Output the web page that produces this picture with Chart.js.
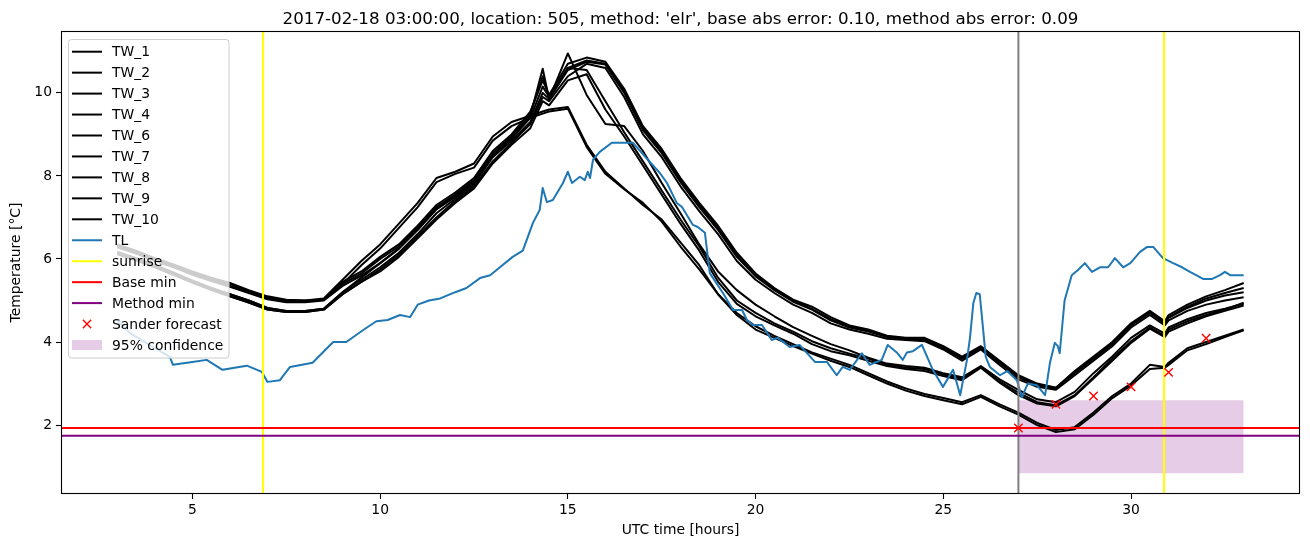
<!DOCTYPE html>
<html>
<head>
<meta charset="utf-8">
<script src="https://cdn.jsdelivr.net/npm/chart.js@4.4.0/dist/chart.umd.min.js"></script>
<style>
  html, body { margin: 0; padding: 0; background: #fff; }
  #wrap { width: 1310px; height: 547px; }
</style>
</head>
<body>
<div id="wrap"><canvas id="tempChart" width="1310" height="547"></canvas></div>
<script>
// hours shared by all TW sensors
const hours = [3, 3.5, 4, 4.5, 5, 5.5, 6, 6.5, 7, 7.5, 8, 8.5, 9, 9.5, 10, 10.5, 11, 11.5, 12, 12.5,
  13, 13.5, 14, 14.33, 14.5, 15, 15.5, 16, 16.5, 17, 17.5, 18, 18.5, 19, 19.5, 20, 20.5, 21, 21.5, 22,
  22.5, 23, 23.5, 24, 24.5, 25, 25.5, 26, 26.5, 27, 27.5, 28, 28.5, 29, 29.5, 30, 30.5, 30.9, 31, 31.5,
  32, 32.5, 33];

const tw1 = [6.33, 6.18, 6.0, 5.85, 5.68, 5.52, 5.4, 5.22, 5.08, 5.0, 5.0, 5.02, 5.45,
  5.7, 6.05, 6.35, 6.8, 7.3, 7.6, 7.95, 8.6, 9.0, 9.55, 10.3, 9.95, 10.7, 10.85, 10.75, 10.1, 9.2,
  8.65, 7.95, 7.35, 6.8, 6.15, 5.65, 5.3, 5.02, 4.85, 4.6, 4.4, 4.3, 4.15, 4.1, 4.1, 3.9, 3.65, 3.9,
  3.55, 3.2, 3.0, 2.9, 3.3, 3.65, 4.0, 4.45, 4.75, 4.5, 4.65, 4.9, 5.1, 5.25, 5.42];
const tw2 = [6.17, 6.02, 5.85, 5.67, 5.48, 5.3, 5.15, 5.0, 4.82, 4.75, 4.75, 4.8, 5.2,
  5.5, 5.8, 6.15, 6.6, 7.1, 7.45, 7.8, 8.45, 8.85, 9.3, 10.0, 9.85, 10.55, 10.75, 10.68, 10.0, 9.1,
  8.55, 7.85, 7.25, 6.7, 6.05, 5.58, 5.25, 4.97, 4.78, 4.52, 4.35, 4.25, 4.12, 4.07, 4.05, 3.85, 3.6, 3.85,
  3.5, 3.15, 2.95, 2.88, 3.25, 3.6, 3.95, 4.4, 4.7, 4.45, 4.58, 4.82, 5.0, 5.12, 5.2];
const tw3 = [6.17, 6.02, 5.85, 5.67, 5.48, 5.3, 5.15, 5.0, 4.82, 4.75, 4.75, 4.8, 5.2,
  5.55, 5.9, 6.25, 6.7, 7.2, 7.5, 7.85, 8.5, 8.9, 9.45, 10.58, 9.85, 10.95, 9.95, 9.25, 9.2, 8.6,
  7.83, 7.1, 6.35, 5.7, 5.25, 4.9, 4.62, 4.36, 4.15, 3.95, 3.8, 3.62, 3.48, 3.42, 3.38, 3.25, 3.15, 3.42,
  3.1, 2.85, 2.62, 2.55, 2.8, 3.25, 3.65, 4.1, 4.4, 4.2, 4.35, 4.55, 4.7, 4.8, 4.92];
const tw4 = [6.12, 5.97, 5.8, 5.62, 5.43, 5.26, 5.1, 4.95, 4.78, 4.72, 4.72, 4.78, 5.15,
  5.45, 5.75, 6.1, 6.55, 7.0, 7.4, 7.75, 8.35, 8.8, 9.25, 9.9, 9.8, 10.4, 10.7, 10.6, 9.9, 9.0,
  8.45, 7.75, 7.15, 6.6, 5.95, 5.5, 5.18, 4.9, 4.7, 4.45, 4.3, 4.2, 4.08, 4.05, 4.02, 3.82, 3.55, 3.82,
  3.45, 3.1, 2.92, 2.85, 3.2, 3.55, 3.9, 4.35, 4.65, 4.4, 4.52, 4.75, 4.9, 5.0, 5.08];
const tw6 = [6.35, 6.2, 6.02, 5.87, 5.7, 5.55, 5.42, 5.25, 5.1, 5.02, 5.0, 5.05, 5.5,
  5.95, 6.35, 6.85, 7.35, 7.95, 8.1, 8.3, 8.95, 9.3, 9.45, 9.55, 9.6, 9.66, 8.75, 8.1, 7.7, 7.3,
  6.95, 6.4, 5.85, 5.15, 4.7, 4.38, 4.15, 3.95, 3.75, 3.6, 3.45, 3.25, 3.05, 2.88, 2.75, 2.65, 2.55, 2.72,
  2.5, 2.3, 2.05, 1.88, 1.95, 2.3, 2.7, 3.0, 3.45, 3.4, 3.5, 3.85, 4.0, 4.15, 4.3];
const tw7 = [6.12, 5.97, 5.8, 5.62, 5.43, 5.26, 5.1, 4.95, 4.78, 4.72, 4.72, 4.78, 5.15,
  5.45, 5.7, 6.05, 6.5, 6.95, 7.35, 7.7, 8.3, 8.75, 9.15, 9.8, 9.7, 10.3, 10.45, 9.6, 8.95, 8.25,
  7.55, 6.85, 6.2, 5.45, 4.92, 4.62, 4.4, 4.2, 3.95, 3.78, 3.68, 3.55, 3.42, 3.35, 3.3, 3.18, 3.08, 3.38,
  3.02, 2.72, 2.52, 2.45, 2.7, 3.12, 3.55, 3.98, 4.32, 4.12, 4.25, 4.45, 4.62, 4.75, 4.88];
const tw8 = [6.28, 6.13, 5.95, 5.8, 5.62, 5.47, 5.33, 5.18, 5.03, 4.96, 4.96, 5.0, 5.35,
  5.6, 5.9, 6.25, 6.7, 7.2, 7.5, 7.85, 8.5, 8.9, 9.4, 10.15, 9.9, 10.6, 10.78, 10.7, 10.05, 9.15,
  8.6, 7.9, 7.3, 6.75, 6.1, 5.62, 5.28, 5.0, 4.8, 4.55, 4.38, 4.28, 4.13, 4.08, 4.08, 3.88, 3.62, 3.88,
  3.52, 3.18, 2.98, 2.9, 3.28, 3.62, 3.98, 4.42, 4.72, 4.48, 4.6, 4.85, 5.05, 5.18, 5.3];
const tw9 = [6.3, 6.15, 5.98, 5.82, 5.65, 5.5, 5.35, 5.2, 5.05, 4.98, 4.98, 5.02, 5.4,
  5.85, 6.25, 6.75, 7.25, 7.85, 8.05, 8.2, 8.85, 9.2, 9.4, 9.5, 9.55, 9.62, 8.7, 8.05, 7.68, 7.35,
  6.9, 6.3, 5.75, 5.15, 4.65, 4.3, 4.1, 3.9, 3.72, 3.55, 3.4, 3.2, 3.0, 2.83, 2.7, 2.6, 2.5, 2.68,
  2.45, 2.25, 2.0, 1.83, 1.9, 2.25, 2.65, 2.95, 3.35, 3.38, 3.45, 3.8, 3.95, 4.12, 4.28];
const tw10 = [6.3, 6.15, 5.98, 5.82, 5.65, 5.5, 5.35, 5.2, 5.05, 4.98, 4.98, 5.02, 5.4,
  5.65, 6.0, 6.3, 6.75, 7.25, 7.55, 7.9, 8.55, 8.95, 9.5, 10.4, 9.9, 10.6, 10.55, 9.8, 9.05, 8.35,
  7.65, 6.95, 6.3, 5.55, 5.0, 4.7, 4.45, 4.25, 4.02, 3.85, 3.72, 3.6, 3.45, 3.38, 3.35, 3.22, 3.12, 3.4,
  3.05, 2.78, 2.55, 2.48, 2.72, 3.15, 3.6, 4.02, 4.35, 4.15, 4.3, 4.5, 4.65, 4.78, 4.95];

const twNames = ['TW_1', 'TW_2', 'TW_3', 'TW_4', 'TW_6', 'TW_7', 'TW_8', 'TW_9', 'TW_10'];
const twSeries = [tw1, tw2, tw3, tw4, tw6, tw7, tw8, tw9, tw10];

// air temperature TL
const tlHours = [3.0, 3.33, 3.95, 4.4, 4.48, 5.0, 5.38, 5.8, 6.45, 6.85, 7.0, 7.33, 7.6, 8.2, 8.75, 9.1,
  9.55, 9.9, 10.2, 10.53, 10.8, 11.0, 11.3, 11.6, 12.0, 12.3, 12.66, 12.93, 13.19, 13.53, 13.8, 14.07,
  14.25, 14.33, 14.44, 14.6, 14.87, 15.0, 15.11, 15.32, 15.45, 15.53, 15.59, 15.67, 15.85, 16.17, 16.73,
  17.13, 17.45, 17.64, 17.9, 18.04, 18.33, 18.46, 18.65, 18.78, 19.13, 19.4, 19.64, 19.77, 19.93, 20.17,
  20.43, 20.59, 20.91, 21.17, 21.58, 21.9, 22.16, 22.32, 22.51, 22.83, 23.04, 23.36, 23.52, 23.76, 23.92,
  24.03, 24.19, 24.43, 24.72, 24.99, 25.26, 25.45, 25.63, 25.71, 25.8, 25.88, 25.97, 26.05, 26.13, 26.24,
  26.51, 26.7, 26.96, 27.09, 27.25, 27.49, 27.71, 27.84, 27.97, 28.05, 28.1, 28.23, 28.42, 28.58, 28.77,
  28.96, 29.17, 29.39, 29.57, 29.79, 29.98, 30.24, 30.43, 30.59, 30.85, 31.12, 31.36, 31.57, 31.92, 32.16,
  32.37, 32.5, 32.64, 33.0];
const tlTemps = [4.53, 4.22, 3.88, 3.64, 3.45, 3.52, 3.57, 3.33, 3.43, 3.28, 3.04, 3.08, 3.4, 3.5, 4.0, 4.0,
  4.29, 4.5, 4.53, 4.65, 4.6, 4.9, 5.0, 5.05, 5.2, 5.3, 5.54, 5.61, 5.8, 6.05, 6.2, 6.87,
  7.18, 7.71, 7.37, 7.42, 7.83, 8.1, 7.83, 7.98, 7.9, 8.1, 7.95, 8.39, 8.58, 8.8, 8.8,
  8.39, 8.07, 7.83, 7.35, 7.25, 6.82, 6.77, 6.63, 5.66, 5.18, 4.77, 4.77, 4.53, 4.41, 4.41,
  4.05, 4.1, 3.88, 3.93, 3.52, 3.52, 3.2, 3.4, 3.33, 3.73, 3.45, 3.57, 3.93, 3.75, 3.57,
  3.75, 3.78, 3.93, 3.33, 2.92, 3.33, 2.72, 3.57, 4.1, 4.94, 5.18, 5.15, 4.4, 3.64, 3.4,
  3.2, 3.3, 3.08, 2.67, 3.0, 2.96, 2.72, 3.5, 3.98, 3.9, 3.73, 5.0, 5.61, 5.73, 5.9,
  5.69, 5.8, 5.8, 6.02, 5.8, 5.9, 6.17, 6.29, 6.29, 6.02, 5.9, 5.8, 5.69, 5.52, 5.52,
  5.61, 5.69, 5.61, 5.61];

const sunriseHours = [6.88, 30.88];
const nowHour = 27.0;
const baseMin = 1.93;
const methodMin = 1.74;

const forecastHours = [27, 28, 29, 30, 31, 32];
const forecastTemps = [1.93, 2.5, 2.7, 2.92, 3.27, 4.09];

const confHours = [27, 33];
const confLow = 0.84;
const confHigh = 2.6;

const xTicks = [5, 10, 15, 20, 25, 30];
const yTicks = [2, 4, 6, 8, 10];
const xMin = 1.5, xMax = 34.5, yMin = 0.34, yMax = 11.49;

const titleText = "2017-02-18 03:00:00, location: 505, method: 'elr', base abs error: 0.10, method abs error: 0.09";

function pairs(xs, ys) {
  return xs.map((x, i) => ({ x: x, y: ys[i] }));
}

const FONT = "'DejaVu Sans', sans-serif";
Chart.defaults.font.family = FONT;
Chart.defaults.color = '#000';

const datasets = [];
datasets.push({
  label: 'Sander forecast', data: pairs(forecastHours, forecastTemps), showLine: false,
  pointStyle: 'crossRot', pointRadius: 5.9, borderColor: '#ff0000', borderWidth: 1.4,
  backgroundColor: '#ff0000'
});
datasets.push({
  label: 'Method min', data: [{ x: xMin, y: methodMin }, { x: xMax, y: methodMin }],
  borderColor: '#800080', borderWidth: 2, pointRadius: 0
});
datasets.push({
  label: 'Base min', data: [{ x: xMin, y: baseMin }, { x: xMax, y: baseMin }],
  borderColor: '#ff0000', borderWidth: 2, pointRadius: 0
});
sunriseHours.forEach(h => {
  datasets.push({
    label: 'sunrise', data: [{ x: h, y: yMin }, { x: h, y: yMax }],
    borderColor: '#ffff00', borderWidth: 2, pointRadius: 0
  });
});
datasets.push({
  label: 'now', data: [{ x: nowHour, y: yMin }, { x: nowHour, y: yMax }],
  borderColor: '#808080', borderWidth: 2, pointRadius: 0
});
datasets.push({
  label: 'TL', data: pairs(tlHours, tlTemps),
  borderColor: '#1f77b4', borderWidth: 2, pointRadius: 0
});
twSeries.forEach((s, i) => {
  datasets.push({
    label: twNames[i], data: pairs(hours, s),
    borderColor: '#000000', borderWidth: 2, pointRadius: 0
  });
});
datasets.push({
  label: '95% confidence', data: pairs(confHours, [confHigh, confHigh]),
  borderWidth: 0, borderColor: 'rgba(0,0,0,0)', pointRadius: 0,
  backgroundColor: 'rgba(128,0,128,0.2)', fill: { value: confLow }
});

// legend entries like matplotlib's upper-left box
const legendItems = twNames.map(n => ({ text: n, kind: 'line', color: '#000000' })).concat([
  { text: 'TL', kind: 'line', color: '#1f77b4' },
  { text: 'sunrise', kind: 'line', color: '#ffff00' },
  { text: 'Base min', kind: 'line', color: '#ff0000' },
  { text: 'Method min', kind: 'line', color: '#800080' },
  { text: 'Sander forecast', kind: 'x', color: '#ff0000' },
  { text: '95% confidence', kind: 'patch', color: 'rgba(128,0,128,0.2)' }
]);

const mplDecor = {
  id: 'mplDecor',
  afterDatasetsDraw(chart) {
    const ctx = chart.ctx;
    const a = chart.chartArea;
    ctx.save();
    // axes frame
    ctx.strokeStyle = '#000';
    ctx.lineWidth = 1.1;
    ctx.strokeRect(a.left + 0.5, a.top + 0.5, a.right - a.left - 1, a.bottom - a.top - 1);

    // legend box
    const bx = 68.5, by = 39.5, bw = 160.5, bh = 318.5, r = 3;
    ctx.beginPath();
    ctx.moveTo(bx + r, by);
    ctx.arcTo(bx + bw, by, bx + bw, by + bh, r);
    ctx.arcTo(bx + bw, by + bh, bx, by + bh, r);
    ctx.arcTo(bx, by + bh, bx, by, r);
    ctx.arcTo(bx, by, bx + bw, by, r);
    ctx.closePath();
    ctx.fillStyle = 'rgba(255,255,255,0.8)';
    ctx.fill();
    ctx.strokeStyle = '#cccccc';
    ctx.lineWidth = 1;
    ctx.stroke();

    ctx.font = '13.9px ' + FONT;
    ctx.textBaseline = 'middle';
    ctx.textAlign = 'left';
    legendItems.forEach((it, i) => {
      const y = 51.7 + i * 20.95;
      if (it.kind === 'line') {
        ctx.strokeStyle = it.color;
        ctx.lineWidth = 2;
        ctx.beginPath();
        ctx.moveTo(72, y);
        ctx.lineTo(102, y);
        ctx.stroke();
      } else if (it.kind === 'x') {
        ctx.strokeStyle = it.color;
        ctx.lineWidth = 1.4;
        ctx.beginPath();
        ctx.moveTo(87 - 4.2, y - 4.2); ctx.lineTo(87 + 4.2, y + 4.2);
        ctx.moveTo(87 - 4.2, y + 4.2); ctx.lineTo(87 + 4.2, y - 4.2);
        ctx.stroke();
      } else {
        ctx.fillStyle = it.color;
        ctx.fillRect(72, y - 5, 30, 10);
      }
      ctx.fillStyle = '#000';
      ctx.fillText(it.text, 112, y + 1);
    });

    // title
    ctx.font = '16.7px ' + FONT;
    ctx.textAlign = 'center';
    ctx.textBaseline = 'alphabetic';
    ctx.fillStyle = '#000';
    ctx.fillText(titleText, (a.left + a.right) / 2, 23.5);
    ctx.restore();
  }
};

new Chart(document.getElementById('tempChart').getContext('2d'), {
  type: 'line',
  data: { datasets: datasets },
  options: {
    responsive: false,
    animation: false,
    layout: { padding: { top: 31, right: 10, bottom: 0, left: 0 } },
    elements: { line: { tension: 0, borderJoinStyle: 'round', fill: false } },
    plugins: {
      legend: { display: false },
      title: { display: false },
      tooltip: { enabled: false }
    },
    scales: {
      x: {
        type: 'linear', min: xMin, max: xMax,
        afterBuildTicks: s => { s.ticks = xTicks.map(v => ({ value: v })); },
        afterFit: s => { s.height = 53; },
        grid: { drawOnChartArea: false, drawTicks: true, tickLength: 5, tickColor: '#000', tickWidth: 1.1 },
        border: { display: false },
        ticks: { font: { size: 13.9 }, color: '#000', padding: 3, maxRotation: 0 },
        title: { display: true, text: 'UTC time [hours]', font: { size: 13.9 }, color: '#000', padding: { top: 0, bottom: 8.5 } }
      },
      y: {
        type: 'linear', min: yMin, max: yMax,
        afterBuildTicks: s => { s.ticks = yTicks.map(v => ({ value: v })); },
        afterFit: s => { s.width = 61; },
        grid: { drawOnChartArea: false, drawTicks: true, tickLength: 5, tickColor: '#000', tickWidth: 1.1 },
        border: { display: false },
        ticks: { font: { size: 13.9 }, color: '#000', padding: 4 },
        title: { display: true, text: 'Temperature [°C]', font: { size: 13.9 }, color: '#000', padding: { top: 8.5, bottom: 0 } }
      }
    }
  },
  plugins: [mplDecor]
});
</script>
</body>
</html>
